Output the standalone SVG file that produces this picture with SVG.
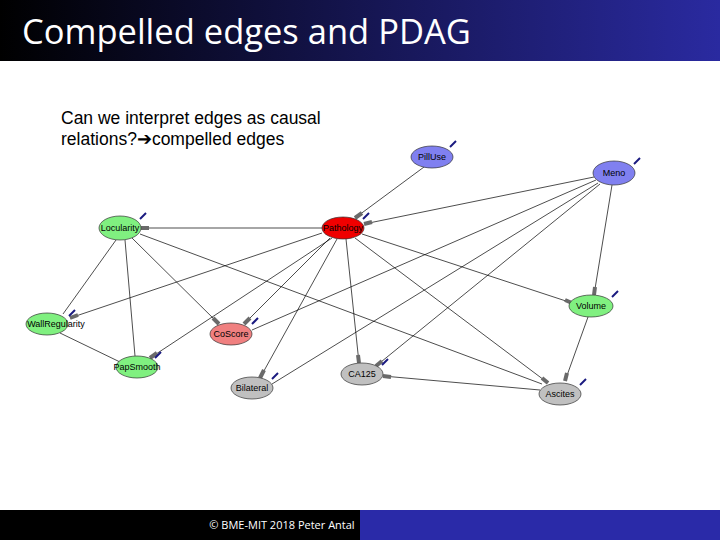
<svg xmlns="http://www.w3.org/2000/svg" width="720" height="540" viewBox="0 0 720 540">
<defs>
<linearGradient id="tg" x1="0" x2="1"><stop offset="0" stop-color="#000"/><stop offset="1" stop-color="#2a2aa0"/></linearGradient>
<g id="ic"><line x1="0" y1="6" x2="6" y2="0" stroke="#1a1a80" stroke-width="2"/></g>
</defs>
<style>
.e{stroke:#000;stroke-width:0.7;fill:none}
.s{stroke:#6a6a6a;stroke-width:4;stroke-linecap:butt}
.n{stroke:#333;stroke-width:0.7}
.t{font-family:"Liberation Sans",Arial,sans-serif;font-size:9px;text-anchor:middle;fill:#000}
</style>
<rect width="720" height="540" fill="#fff"/>
<rect width="720" height="61" fill="url(#tg)"/>
<text x="22" y="44" font-family="'Open Sans','DejaVu Sans',sans-serif" font-size="34.5" fill="#fff">Compelled edges and PDAG</text>
<text font-family="'Liberation Sans',Arial,sans-serif" font-size="17.5" fill="#000"><tspan x="61" y="124">Can we interpret edges as causal</tspan><tspan x="61" y="145">relations?➔compelled edges</tspan></text>
<g id="edges">
<line class="e" x1="141" y1="228" x2="322" y2="228"/>
<line class="e" x1="116" y1="240" x2="63" y2="314"/>
<line class="e" x1="125" y1="240" x2="135" y2="356"/>
<line class="e" x1="132" y1="238" x2="219" y2="324"/>
<line class="e" x1="140" y1="234" x2="542" y2="384"/>
<line class="e" x1="322" y1="233" x2="70" y2="318"/>
<line class="e" x1="330" y1="238" x2="244" y2="324"/>
<line class="e" x1="332" y1="238" x2="150" y2="358"/>
<line class="e" x1="337" y1="239" x2="260" y2="378"/>
<line class="e" x1="346" y1="239" x2="359" y2="363"/>
<line class="e" x1="362" y1="234" x2="572" y2="303"/>
<line class="e" x1="355" y1="238" x2="548" y2="383"/>
<line class="e" x1="424" y1="167" x2="355" y2="218"/>
<line class="e" x1="594" y1="177" x2="364" y2="224"/>
<line class="e" x1="596" y1="180" x2="252" y2="330"/>
<line class="e" x1="598" y1="183" x2="272" y2="384"/>
<line class="e" x1="600" y1="184" x2="376" y2="366"/>
<line class="e" x1="612" y1="185" x2="594" y2="295"/>
<line class="e" x1="588" y1="317" x2="565" y2="381"/>
<line class="e" x1="383" y1="376" x2="540" y2="390"/>
<line class="e" x1="60" y1="333" x2="120" y2="362"/>
<line class="s" x1="141" y1="228" x2="149" y2="228"/>
<line class="s" x1="219" y1="324" x2="213" y2="318"/>
<line class="s" x1="70" y1="318" x2="78" y2="315"/>
<line class="s" x1="244" y1="324" x2="250" y2="318"/>
<line class="s" x1="150" y1="358" x2="157" y2="353"/>
<line class="s" x1="260" y1="378" x2="264" y2="370"/>
<line class="s" x1="359" y1="363" x2="358" y2="355"/>
<line class="s" x1="572" y1="303" x2="565" y2="300"/>
<line class="s" x1="548" y1="383" x2="542" y2="378"/>
<line class="s" x1="355" y1="218" x2="362" y2="213"/>
<line class="s" x1="364" y1="224" x2="372" y2="222"/>
<line class="s" x1="376" y1="366" x2="382" y2="361"/>
<line class="s" x1="594" y1="295" x2="595" y2="287"/>
<line class="s" x1="565" y1="381" x2="567" y2="373"/>
<line class="s" x1="383" y1="376" x2="391" y2="377"/>
</g>
<g id="PillUse"><ellipse class="n" cx="432" cy="157" rx="21" ry="11" fill="#8080f0"/><text class="t" x="432" y="160">PillUse</text><use href="#ic" x="450" y="141"/></g>
<g id="Meno"><ellipse class="n" cx="614" cy="173" rx="21" ry="12" fill="#8080f0"/><text class="t" x="614" y="176">Meno</text><use href="#ic" x="634" y="158"/></g>
<g id="Locularity"><ellipse class="n" cx="120" cy="228" rx="21" ry="12" fill="#80f080"/><text class="t" x="120" y="231">Locularity</text><use href="#ic" x="140" y="213"/></g>
<g id="Pathology"><ellipse class="n" cx="343" cy="228" rx="21" ry="11" fill="#f00000"/><text class="t" x="343" y="231">Pathology</text><use href="#ic" x="363" y="213"/></g>
<g id="WallRegularity"><ellipse class="n" cx="47" cy="324" rx="21" ry="11" fill="#80f080"/><text class="t" x="56" y="327">WallRegularity</text><use href="#ic" x="69" y="310"/></g>
<g id="CoScore"><ellipse class="n" cx="231" cy="334" rx="21" ry="11" fill="#f08080"/><text class="t" x="231" y="337">CoScore</text><use href="#ic" x="252" y="318"/></g>
<g id="PapSmooth"><ellipse class="n" cx="137" cy="367" rx="21" ry="11" fill="#80f080"/><text class="t" x="137" y="370">PapSmooth</text><use href="#ic" x="155" y="352"/></g>
<g id="Bilateral"><ellipse class="n" cx="252" cy="388" rx="21" ry="11" fill="#c0c0c0"/><text class="t" x="252" y="391">Bilateral</text><use href="#ic" x="272" y="373"/></g>
<g id="CA125"><ellipse class="n" cx="362" cy="374" rx="21" ry="11" fill="#c0c0c0"/><text class="t" x="362" y="377">CA125</text><use href="#ic" x="382" y="359"/></g>
<g id="Volume"><ellipse class="n" cx="591" cy="306" rx="22" ry="11" fill="#80f080"/><text class="t" x="591" y="309">Volume</text><use href="#ic" x="612" y="291"/></g>
<g id="Ascites"><ellipse class="n" cx="560" cy="394" rx="21" ry="11" fill="#c0c0c0"/><text class="t" x="560" y="397">Ascites</text><use href="#ic" x="580" y="379"/></g>
<rect x="0" y="510" width="360" height="30" fill="#000"/>
<rect x="360" y="510" width="360" height="30" fill="#2a2aa8"/>
<text x="282" y="529" font-family="'Open Sans','DejaVu Sans',sans-serif" font-size="11" fill="#fff" text-anchor="middle">© BME-MIT 2018 Peter Antal</text>
</svg>
